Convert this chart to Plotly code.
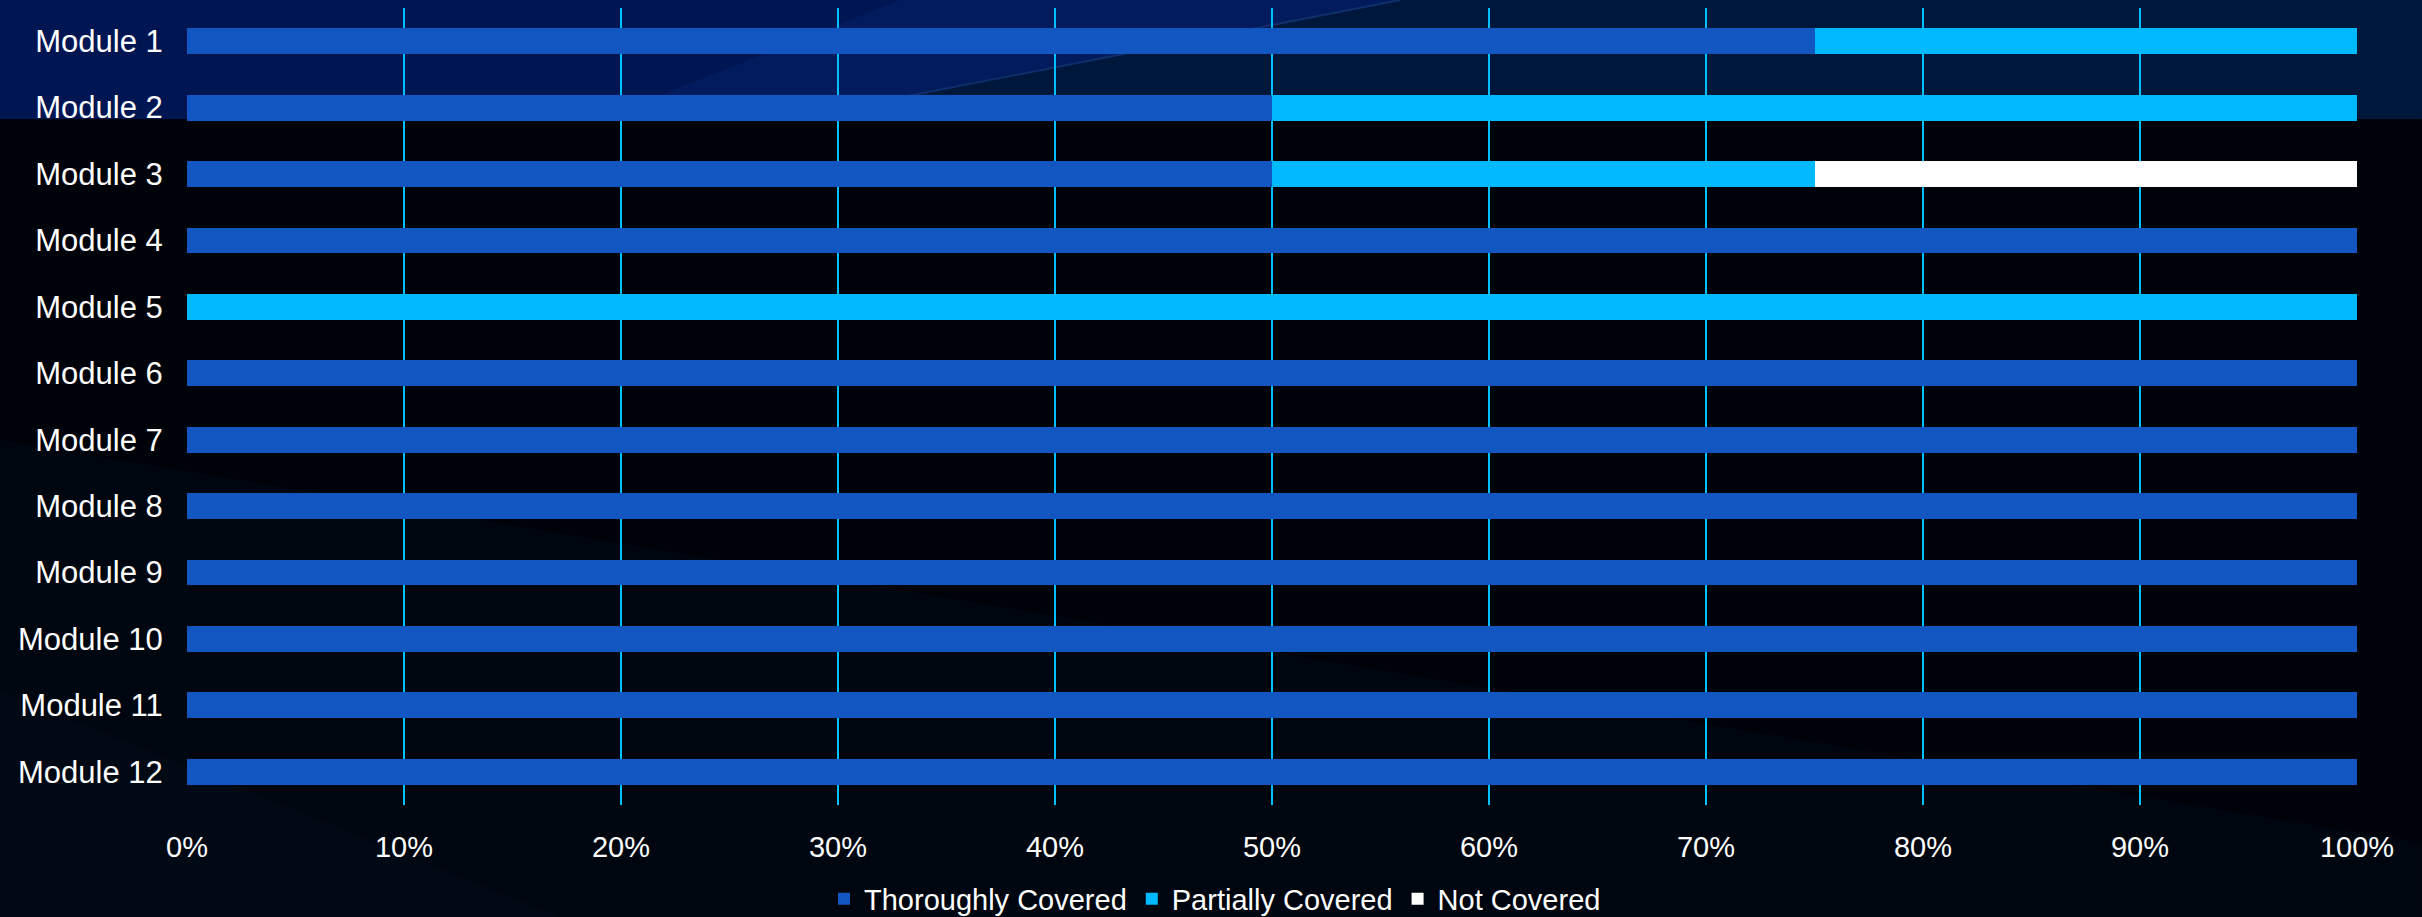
import plotly.graph_objects as go

# Course coverage by module (share of content, in %)
modules = [f"Module {i}" for i in range(1, 13)]
thorough = [75, 50, 50, 100, 0, 100, 100, 100, 100, 100, 100, 100]
partial = [25, 50, 25, 0, 100, 0, 0, 0, 0, 0, 0, 0]
not_covered = [0, 0, 25, 0, 0, 0, 0, 0, 0, 0, 0, 0]
x_ticks = [0, 10, 20, 30, 40, 50, 60, 70, 80, 90, 100]

W, H = 2422, 917
L, R, T, B = 187, 65, 8, 112
PW, PH = W - L - R, H - T - B

FONT = "Liberation Sans, Arial, sans-serif"


def px(x):
    return (x - L) / PW


def py(y):
    return (H - B - y) / PH


def poly(points, color):
    path = "M " + " L ".join(f"{px(x):.5f},{py(y):.5f}" for x, y in points) + " Z"
    return dict(type="path", path=path, xref="paper", yref="paper",
                fillcolor=color, line=dict(width=0), layer="below")


shapes = [
    # navy header band
    poly([(0, 0), (W, 0), (W, 119), (0, 119)], "#001652"),
    # slightly brighter sheen next to the diagonal
    poly([(600, 119), (790, 119), (1400, 0), (900, 0)], "#011b5c"),
    # darker wedge on the right of the header band
    poly([(790, 119), (1400, 0), (W, 0), (W, 119)], "#00173c"),
    # faint lighter wedges in the lower area
    poly([(0, 440), (W, 843), (W, 917), (0, 917)], "#00060f"),
    poly([(0, 690), (560, 917), (0, 917)], "#000914"),
    dict(type="line", xref="paper", yref="paper",
         x0=px(790), y0=py(119), x1=px(1400), y1=py(0),
         line=dict(color="#0f2f6c", width=2), layer="below"),
]

fig = go.Figure()
series = [
    ("Thoroughly Covered", thorough, "#1156c1"),
    ("Partially Covered", partial, "#00b9fe"),
    ("Not Covered", not_covered, "#ffffff"),
]
for name, vals, color in series:
    fig.add_trace(go.Bar(
        y=modules, x=vals, name=name, orientation="h",
        marker=dict(color=color, line=dict(width=0)),
    ))

fig.update_layout(
    width=W, height=H,
    margin=dict(l=L, r=R, t=T, b=B, pad=0, autoexpand=False),
    barmode="stack", bargap=0.61,
    paper_bgcolor="#000209", plot_bgcolor="rgba(0,0,0,0)",
    font=dict(family=FONT, size=29, color="#ffffff"),
    shapes=shapes,
    showlegend=True,
    legend=dict(orientation="h", x=px(1215), xanchor="center",
                y=py(899), yanchor="middle",
                font=dict(family=FONT, size=29, color="#ffffff"),
                bgcolor="rgba(0,0,0,0)", itemwidth=30, traceorder="normal"),
)
fig.update_xaxes(
    range=[0, 100], tickvals=x_ticks, ticktext=[f"{v}%" for v in x_ticks],
    showgrid=True, gridcolor="#00c0ff", gridwidth=2,
    zeroline=False, showline=False, automargin=False,
    ticks="outside", ticklen=16, tickcolor="rgba(0,0,0,0)",
    tickfont=dict(family=FONT, size=29, color="#ffffff"),
)
fig.update_yaxes(
    autorange="reversed", showgrid=False, zeroline=False, showline=False,
    automargin=False,
    ticks="outside", ticklen=17, tickcolor="rgba(0,0,0,0)",
    tickfont=dict(family=FONT, size=31, color="#ffffff"),
)

fig.write_html("out.html")
